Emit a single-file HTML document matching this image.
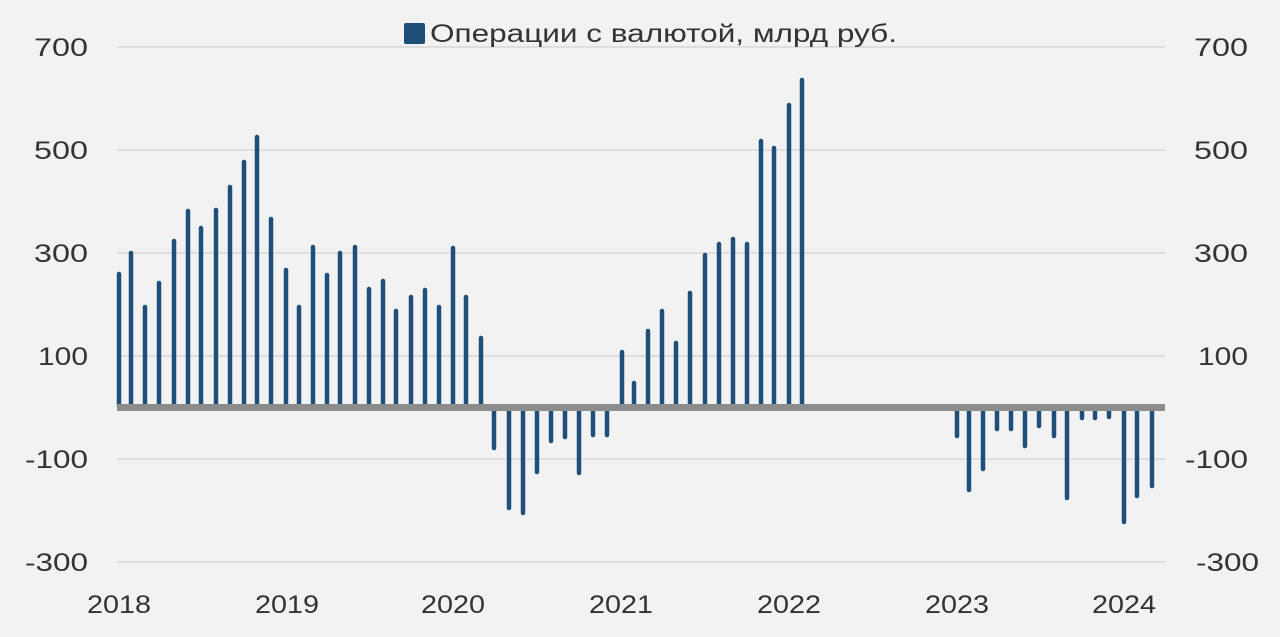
<!DOCTYPE html>
<html><head><meta charset="utf-8"><style>
html,body{margin:0;padding:0;background:#f2f2f2;}
svg{display:block;font-family:"Liberation Sans",sans-serif;}
</style></head><body>
<svg width="1280" height="637" xmlns="http://www.w3.org/2000/svg">
<rect width="1280" height="637" fill="#f2f2f2"/>
<g stroke="#dedede" stroke-width="2">
<line x1="117" x2="1165" y1="47" y2="47"/>
<line x1="117" x2="1165" y1="150" y2="150"/>
<line x1="117" x2="1165" y1="253" y2="253"/>
<line x1="117" x2="1165" y1="356" y2="356"/>
<line x1="117" x2="1165" y1="459" y2="459"/>
<line x1="117" x2="1165" y1="562" y2="562"/>
</g>
<g font-size="25" fill="#333" lengthAdjust="spacingAndGlyphs">
<text x="34" y="56" textLength="54" lengthAdjust="spacingAndGlyphs">700</text>
<text x="34" y="159" textLength="54" lengthAdjust="spacingAndGlyphs">500</text>
<text x="34" y="262" textLength="54" lengthAdjust="spacingAndGlyphs">300</text>
<text x="38" y="365" textLength="50" lengthAdjust="spacingAndGlyphs">100</text>
<text x="25" y="468" textLength="63" lengthAdjust="spacingAndGlyphs">-100</text>
<text x="25" y="571" textLength="63" lengthAdjust="spacingAndGlyphs">-300</text>
<text x="1194" y="56" textLength="54" lengthAdjust="spacingAndGlyphs">700</text>
<text x="1194" y="159" textLength="54" lengthAdjust="spacingAndGlyphs">500</text>
<text x="1194" y="262" textLength="54" lengthAdjust="spacingAndGlyphs">300</text>
<text x="1198" y="365" textLength="50" lengthAdjust="spacingAndGlyphs">100</text>
<text x="1185" y="468" textLength="63" lengthAdjust="spacingAndGlyphs">-100</text>
<text x="1196" y="571" textLength="63" lengthAdjust="spacingAndGlyphs">-300</text>
<text x="87" y="613" textLength="64" lengthAdjust="spacingAndGlyphs">2018</text>
<text x="255" y="613" textLength="64" lengthAdjust="spacingAndGlyphs">2019</text>
<text x="421" y="613" textLength="64" lengthAdjust="spacingAndGlyphs">2020</text>
<text x="589" y="613" textLength="64" lengthAdjust="spacingAndGlyphs">2021</text>
<text x="757" y="613" textLength="64" lengthAdjust="spacingAndGlyphs">2022</text>
<text x="925" y="613" textLength="64" lengthAdjust="spacingAndGlyphs">2023</text>
<text x="1092" y="613" textLength="64" lengthAdjust="spacingAndGlyphs">2024</text>
<rect x="404" y="23" width="21" height="21" rx="2" fill="#1f4e79"/>
<text x="430" y="42" textLength="467" lengthAdjust="spacingAndGlyphs">Операции с валютой, млрд руб.</text>
</g>
<g stroke="#1f4e79" stroke-width="4.5" stroke-linecap="round">
<line x1="119" x2="119" y1="274" y2="406"/>
<line x1="131" x2="131" y1="253" y2="406"/>
<line x1="145" x2="145" y1="307" y2="406"/>
<line x1="159" x2="159" y1="283" y2="406"/>
<line x1="174" x2="174" y1="241" y2="406"/>
<line x1="188" x2="188" y1="211" y2="406"/>
<line x1="201" x2="201" y1="228" y2="406"/>
<line x1="216" x2="216" y1="210" y2="406"/>
<line x1="230" x2="230" y1="187" y2="406"/>
<line x1="244" x2="244" y1="162" y2="406"/>
<line x1="257" x2="257" y1="137" y2="406"/>
<line x1="271" x2="271" y1="219" y2="406"/>
<line x1="286" x2="286" y1="270" y2="406"/>
<line x1="299" x2="299" y1="307" y2="406"/>
<line x1="313" x2="313" y1="247" y2="406"/>
<line x1="327" x2="327" y1="275" y2="406"/>
<line x1="340" x2="340" y1="253" y2="406"/>
<line x1="355" x2="355" y1="247" y2="406"/>
<line x1="369" x2="369" y1="289" y2="406"/>
<line x1="383" x2="383" y1="281" y2="406"/>
<line x1="396" x2="396" y1="311" y2="406"/>
<line x1="411" x2="411" y1="297" y2="406"/>
<line x1="425" x2="425" y1="290" y2="406"/>
<line x1="439" x2="439" y1="307" y2="406"/>
<line x1="453" x2="453" y1="248" y2="406"/>
<line x1="466" x2="466" y1="297" y2="406"/>
<line x1="481" x2="481" y1="338" y2="406"/>
<line x1="622" x2="622" y1="352" y2="406"/>
<line x1="634" x2="634" y1="383" y2="406"/>
<line x1="648" x2="648" y1="331" y2="406"/>
<line x1="662" x2="662" y1="311" y2="406"/>
<line x1="676" x2="676" y1="343" y2="406"/>
<line x1="690" x2="690" y1="293" y2="406"/>
<line x1="705" x2="705" y1="255" y2="406"/>
<line x1="719" x2="719" y1="244" y2="406"/>
<line x1="733" x2="733" y1="239" y2="406"/>
<line x1="747" x2="747" y1="244" y2="406"/>
<line x1="761" x2="761" y1="141" y2="406"/>
<line x1="774" x2="774" y1="148" y2="406"/>
<line x1="789" x2="789" y1="105" y2="406"/>
<line x1="802" x2="802" y1="80" y2="406"/>
<line x1="494" x2="494" y1="409" y2="448"/>
<line x1="509" x2="509" y1="409" y2="508"/>
<line x1="523" x2="523" y1="409" y2="513"/>
<line x1="537" x2="537" y1="409" y2="472"/>
<line x1="551" x2="551" y1="409" y2="441"/>
<line x1="565" x2="565" y1="409" y2="437"/>
<line x1="579" x2="579" y1="409" y2="473"/>
<line x1="593" x2="593" y1="409" y2="435"/>
<line x1="607" x2="607" y1="409" y2="435"/>
<line x1="957" x2="957" y1="409" y2="436"/>
<line x1="969" x2="969" y1="409" y2="490"/>
<line x1="983" x2="983" y1="409" y2="469"/>
<line x1="997" x2="997" y1="409" y2="429"/>
<line x1="1011" x2="1011" y1="409" y2="429"/>
<line x1="1025" x2="1025" y1="409" y2="446"/>
<line x1="1039" x2="1039" y1="409" y2="426"/>
<line x1="1054" x2="1054" y1="409" y2="436"/>
<line x1="1067" x2="1067" y1="409" y2="498"/>
<line x1="1082" x2="1082" y1="409" y2="418"/>
<line x1="1095" x2="1095" y1="409" y2="418"/>
<line x1="1109" x2="1109" y1="409" y2="417"/>
<line x1="1124" x2="1124" y1="409" y2="522"/>
<line x1="1137" x2="1137" y1="409" y2="496"/>
<line x1="1152" x2="1152" y1="409" y2="486"/>
</g>
<rect x="117" y="404" width="1048" height="7" fill="#8c8c8c"/>
</svg>
</body></html>
